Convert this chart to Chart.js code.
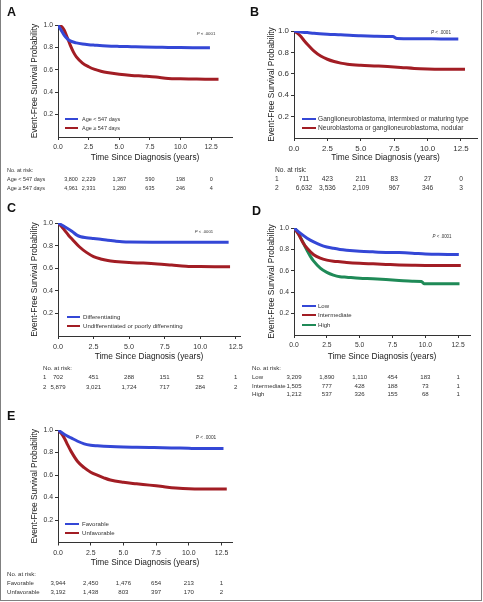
<!DOCTYPE html>
<html><head><meta charset="utf-8">
<script src="https://cdn.jsdelivr.net/npm/chart.js@4"></script>
<style>
html,body{margin:0;padding:0;background:#fff;width:483px;height:602px;overflow:hidden;position:relative}
canvas{position:absolute}
#frame{position:absolute;left:0;top:-1px;width:480px;height:601px;border:1px solid #808080;border-top:none;}
</style></head><body>
<div id="frame"></div>
<canvas id="cA"></canvas><canvas id="cB"></canvas><canvas id="cC"></canvas><canvas id="cD"></canvas><canvas id="cE"></canvas>
<script>
// ---------- DATA ----------
const xTicks = [0, 2.5, 5, 7.5, 10, 12.5];
const yTicks = [0.2, 0.4, 0.6, 0.8, 1.0];
const xTitle = 'Time Since Diagnosis (years)';
const yTitle = 'Event-Free Survival Probability';
const pText = '< .0001';

// A: age
const aYoungT = [0, 0.25, 0.5, 0.75, 1, 1.5, 2, 2.5, 3, 4, 5, 6, 7, 8, 9, 10, 11, 12.4];
const aYoungS = [1.0, 0.955, 0.91, 0.878, 0.858, 0.84, 0.83, 0.824, 0.82, 0.813, 0.809, 0.806, 0.803, 0.801, 0.80, 0.798, 0.797, 0.797];
const aOldT = [0, 0.25, 0.5, 0.75, 1, 1.25, 1.5, 2, 2.5, 3, 3.5, 4, 5, 6, 7, 8, 9, 10, 11, 12, 13.1];
const aOldS = [1.0, 0.99, 0.955, 0.89, 0.82, 0.76, 0.715, 0.66, 0.627, 0.603, 0.587, 0.575, 0.56, 0.55, 0.543, 0.535, 0.523, 0.52, 0.518, 0.516, 0.515];
const aLabels = ['Age < 547 days', 'Age \u2265 547 days'];
const aRiskYoung = [3800, 2229, 1367, 590, 198, 0];
const aRiskOld = [4961, 2331, 1280, 635, 246, 4];

// B: histology category
const bGnbT = [0, 0.5, 1, 1.5, 2.5, 3.5, 5, 6, 7.4, 7.7, 9, 10, 11, 12.3];
const bGnbS = [1.0, 0.99, 0.985, 0.978, 0.97, 0.965, 0.955, 0.952, 0.948, 0.93, 0.928, 0.927, 0.926, 0.925];
const bNbT = [0, 0.25, 0.5, 0.75, 1, 1.5, 2, 2.5, 3, 3.5, 4, 5, 6, 7, 8, 9, 10, 11, 12.8];
const bNbS = [1.0, 0.98, 0.95, 0.912, 0.876, 0.812, 0.766, 0.736, 0.715, 0.70, 0.69, 0.68, 0.674, 0.668, 0.66, 0.65, 0.645, 0.643, 0.643];
const bLabels = ['Ganglioneuroblastoma, intermixed or maturing type', 'Neuroblastoma or ganglioneuroblastoma, nodular'];
const bRowNames = ['1', '2'];
const bRisk1 = [711, 423, 211, 83, 27, 0];
const bRisk2 = [6632, 3536, 2109, 967, 346, 3];

// C: grade
const cDiffT = [0, 0.5, 1, 1.3, 1.6, 2, 2.5, 3, 3.5, 4, 4.5, 5, 7, 9, 11, 12];
const cDiffS = [1.0, 0.965, 0.925, 0.895, 0.878, 0.87, 0.863, 0.856, 0.847, 0.84, 0.834, 0.831, 0.83, 0.83, 0.83, 0.83];
const cUndT = [0, 0.25, 0.5, 0.75, 1, 1.5, 2, 2.5, 3, 3.5, 4, 5, 6, 7, 8, 9, 10, 11, 12.1];
const cUndS = [1.0, 0.97, 0.93, 0.89, 0.856, 0.79, 0.74, 0.703, 0.682, 0.668, 0.66, 0.65, 0.645, 0.638, 0.628, 0.618, 0.614, 0.613, 0.613];
const cLabels = ['Differentiating', 'Undifferentiated or poorly differenting'];
const cRowNames = ['1', '2'];
const cRisk1 = [702, 451, 288, 151, 52, 1];
const cRisk2 = [5879, 3021, 1724, 717, 284, 2];

// D: MKI
const dLowT = [0, 0.5, 1, 1.5, 2, 2.5, 3, 3.5, 4, 5, 6, 7, 8, 9, 10, 11, 12.55];
const dLowS = [1.0, 0.95, 0.905, 0.87, 0.843, 0.823, 0.81, 0.80, 0.793, 0.783, 0.777, 0.772, 0.77, 0.765, 0.758, 0.754, 0.752];
const dIntT = [0, 0.35, 0.7, 1, 1.5, 2, 2.5, 3, 3.5, 4, 5, 6, 7, 8, 9, 10, 11, 12.7];
const dIntS = [1.0, 0.94, 0.86, 0.81, 0.75, 0.718, 0.70, 0.69, 0.684, 0.678, 0.67, 0.665, 0.66, 0.655, 0.652, 0.65, 0.65, 0.65];
const dHighT = [0, 0.25, 0.5, 0.75, 1, 1.25, 1.5, 2, 2.5, 3, 3.5, 4, 5, 6, 7, 8, 9, 9.7, 9.9, 11, 12.6];
const dHighS = [1.0, 0.97, 0.91, 0.85, 0.79, 0.735, 0.69, 0.625, 0.585, 0.56, 0.545, 0.54, 0.53, 0.525, 0.518, 0.51, 0.503, 0.5, 0.48, 0.48, 0.48];
const dLabels = ['Low', 'Intermediate', 'High'];
const dRiskLow = [3209, 1890, 1110, 454, 183, 1];
const dRiskInt = [1505, 777, 428, 188, 73, 1];
const dRiskHigh = [1212, 537, 326, 155, 68, 1];

// E: INPC classification
const eFavT = [0, 0.5, 1, 1.5, 2, 2.5, 3, 4, 5, 6, 7, 8, 9, 10, 11, 12.65];
const eFavS = [1.0, 0.96, 0.93, 0.9, 0.877, 0.865, 0.86, 0.853, 0.849, 0.847, 0.845, 0.843, 0.84, 0.837, 0.835, 0.835];
const eUnfT = [0, 0.25, 0.5, 0.75, 1, 1.5, 2, 2.5, 3, 3.5, 4, 5, 6, 7, 8, 9, 10, 11, 12.9];
const eUnfS = [1.0, 0.97, 0.925, 0.865, 0.81, 0.72, 0.665, 0.625, 0.598, 0.575, 0.555, 0.535, 0.522, 0.51, 0.497, 0.485, 0.477, 0.475, 0.475];
const eLabels = ['Favorable', 'Unfavorable'];
const eRiskFav = [3944, 2450, 1476, 654, 213, 1];
const eRiskUnf = [3192, 1438, 803, 397, 170, 2];

// ---------- STYLE ----------
const BLUE = '#3447d6', RED = '#a21d24', GREEN = '#1f8a57';
function hasFont(name) {
  const c = document.createElement('canvas').getContext('2d');
  const s = 'Time Since Diagnosis (years)';
  c.font = '40px monospace'; const a = c.measureText(s).width;
  c.font = '40px "' + name + '", monospace'; const b = c.measureText(s).width;
  return Math.abs(a - b) > 0.5;
}
const NARROW = hasFont('Liberation Sans Narrow');
const FAMILY = NARROW ? '"Liberation Sans Narrow", "Liberation Sans", Arial, sans-serif' : '"Liberation Sans", Arial, sans-serif';
const K = NARROW ? 1 : 0.82;
const fs = n => +(n * K).toFixed(2);
const fmt = n => n.toLocaleString('en-US');

function drawAnnot(chart, p) {
  const ctx = chart.ctx, ox = p.x, oy = p.y;
  ctx.save();
  // panel letter
  ctx.fillStyle = '#111';
  ctx.textBaseline = 'middle';
  ctx.textAlign = 'left';
  ctx.font = 'bold 12.5px "Liberation Sans", Arial, sans-serif';
  ctx.fillText(p.letter, p.letterPos[0] - ox, p.letterPos[1] - oy);
  // P value
  ctx.fillStyle = '#333';
  const pf = fs(p.pSize);
  ctx.font = 'italic ' + pf + 'px ' + FAMILY;
  const w1 = ctx.measureText('P ').width;
  ctx.font = pf + 'px ' + FAMILY;
  const w2 = ctx.measureText(pText).width;
  let px = p.pPos[0] - ox - (w1 + w2) / 2;
  ctx.font = 'italic ' + pf + 'px ' + FAMILY;
  ctx.fillText('P ', px, p.pPos[1] - oy);
  ctx.font = pf + 'px ' + FAMILY;
  ctx.fillText(pText, px + w1, p.pPos[1] - oy);
  // legend
  const sf = fs(p.smallSize);
  ctx.font = sf + 'px ' + FAMILY;
  p.series.forEach((s, i) => {
    const y = p.legend.rows[i] - oy;
    ctx.strokeStyle = s.color; ctx.lineWidth = 2;
    ctx.beginPath(); ctx.moveTo(p.legend.x1 - ox, y); ctx.lineTo(p.legend.x2 - ox, y); ctx.stroke();
    ctx.fillStyle = '#333';
    ctx.fillText(s.label, p.legend.tx - ox, y);
  });
  // risk table
  const xs = chart.scales.x;
  ctx.fillStyle = '#333';
  ctx.textAlign = 'left';
  ctx.fillText('No. at risk:', p.risk.lx - ox, p.risk.hy - oy);
  p.risk.rows.forEach((r, i) => {
    const y = p.risk.ys[i] - oy;
    ctx.textAlign = 'left';
    ctx.fillText(r.name, p.risk.lx - ox, y);
    ctx.textAlign = 'center';
    r.vals.forEach((v, j) => {
      const x = xs.getPixelForValue(xTicks[j]) + (j === 0 ? p.risk.shift : 0);
      ctx.fillText(fmt(v), x, y);
    });
  });
  ctx.restore();
}

function panel(p) {
  const cv = document.getElementById(p.id);
  cv.width = p.w; cv.height = p.h;
  cv.style.left = p.x + 'px'; cv.style.top = p.y + 'px';
  const A = p.area;
  const xH = 30;
  const padTop = A.t - p.y, padRight = p.x + p.w - A.r, padBottom = (p.y + p.h) - (A.b + xH);
  const yW = A.l - p.x;
  const tSize = fs(10.2), lh = tSize * 1.2;
  const tickFont = { family: FAMILY, size: +(p.tickSize * (NARROW ? 1 : 0.9)).toFixed(2) };
  new Chart(cv, {
    type: 'line',
    data: {
      datasets: p.series.map(s => ({
        label: s.label,
        data: s.t.map((t, i) => ({ x: t, y: s.v[i] })),
        borderColor: s.color, backgroundColor: s.color,
        borderWidth: 3, pointRadius: 0, fill: false,
        cubicInterpolationMode: 'monotone'
      }))
    },
    options: {
      responsive: false, animation: false, devicePixelRatio: 1,
      layout: { padding: { left: 0, top: padTop, right: padRight, bottom: padBottom } },
      plugins: { legend: { display: false }, tooltip: { enabled: false } },
      scales: {
        x: {
          type: 'linear', min: 0, max: p.xMax,
          afterBuildTicks: s => { s.ticks = xTicks.map(v => ({ value: v })); },
          afterFit: s => { s.height = xH; },
          ticks: { font: tickFont, color: '#333', padding: 3.5, maxRotation: 0, autoSkip: false,
                   callback: v => Number(v).toFixed(1) },
          grid: { drawOnChartArea: false, drawTicks: true, tickLength: 3, color: '#333' },
          border: { display: true, color: '#333', width: 1 },
          title: { display: true, text: xTitle, color: '#222', font: { family: FAMILY, size: tSize },
                   padding: { top: 0, bottom: Math.max(0, xH - (p.xTitleY - A.b) - lh / 2) } }
        },
        y: {
          type: 'linear', min: 0, max: 1.0,
          afterBuildTicks: s => { s.ticks = yTicks.map(v => ({ value: v })); },
          afterFit: s => { s.width = yW; },
          ticks: { font: tickFont, color: '#333', padding: 2, autoSkip: false,
                   callback: v => Number(v).toFixed(1) },
          grid: { drawOnChartArea: false, drawTicks: true, tickLength: 3, color: '#333' },
          border: { display: true, color: '#333', width: 1 },
          title: { display: true, text: yTitle, color: '#222', font: { family: FAMILY, size: tSize },
                   padding: { top: (p.yTitleX - p.x) - lh / 2, bottom: 0 } }
        }
      }
    },
    plugins: [{ id: 'annot', afterDraw(chart) { drawAnnot(chart, p); } }]
  });
}

panel({
  id: 'cA', letter: 'A', x: 0, y: 0, w: 240, h: 195,
  area: { l: 58, t: 25, r: 232, b: 137 }, xMax: 14.2,
  tickSize: 7.5, smallSize: 6.7, pSize: 5.3, yTitleX: 35, xTitleY: 158,
  letterPos: [7, 13], pPos: [206, 34],
  series: [
    { t: aYoungT, v: aYoungS, color: BLUE, label: aLabels[0] },
    { t: aOldT, v: aOldS, color: RED, label: aLabels[1] }
  ],
  legend: { x1: 65, x2: 78, tx: 82, rows: [119, 128] },
  risk: { lx: 7, hy: 170, ys: [179, 188], shift: 13,
          rows: [{ name: aLabels[0], vals: aRiskYoung }, { name: aLabels[1], vals: aRiskOld }] }
});
panel({
  id: 'cB', letter: 'B', x: 240, y: 0, w: 240, h: 195,
  area: { l: 294, t: 31, r: 477, b: 138 }, xMax: 13.7,
  tickSize: 8.8, smallSize: 8.1, pSize: 5.7, yTitleX: 272, xTitleY: 158,
  letterPos: [250, 13], pPos: [441, 33],
  series: [
    { t: bGnbT, v: bGnbS, color: BLUE, label: bLabels[0] },
    { t: bNbT, v: bNbS, color: RED, label: bLabels[1] }
  ],
  legend: { x1: 302, x2: 316, tx: 318, rows: [119, 128] },
  risk: { lx: 275, hy: 170, ys: [179, 188], shift: 10,
          rows: [{ name: bRowNames[0], vals: bRisk1 }, { name: bRowNames[1], vals: bRisk2 }] }
});
panel({
  id: 'cC', letter: 'C', x: 0, y: 195, w: 250, h: 200,
  area: { l: 58, t: 223, r: 240, b: 336 }, xMax: 12.8,
  tickSize: 8.0, smallSize: 7.4, pSize: 5.2, yTitleX: 35, xTitleY: 357,
  letterPos: [7, 208.5], pPos: [204, 232],
  series: [
    { t: cDiffT, v: cDiffS, color: BLUE, label: cLabels[0] },
    { t: cUndT, v: cUndS, color: RED, label: cLabels[1] }
  ],
  legend: { x1: 67, x2: 80, tx: 83, rows: [317, 326] },
  risk: { lx: 43, hy: 368, ys: [377, 387], shift: 0,
          rows: [{ name: cRowNames[0], vals: cRisk1 }, { name: cRowNames[1], vals: cRisk2 }] }
});
panel({
  id: 'cD', letter: 'D', x: 240, y: 195, w: 240, h: 205,
  area: { l: 294, t: 228, r: 470, b: 335 }, xMax: 13.4,
  tickSize: 7.5, smallSize: 7.4, pSize: 5.4, yTitleX: 272, xTitleY: 357,
  letterPos: [252, 211.5], pPos: [442, 237],
  series: [
    { t: dLowT, v: dLowS, color: BLUE, label: dLabels[0] },
    { t: dIntT, v: dIntS, color: RED, label: dLabels[1] },
    { t: dHighT, v: dHighS, color: GREEN, label: dLabels[2] }
  ],
  legend: { x1: 302, x2: 316, tx: 318, rows: [306, 315, 325] },
  risk: { lx: 252, hy: 368, ys: [377, 386, 394], shift: 0,
          rows: [{ name: dLabels[0], vals: dRiskLow }, { name: dLabels[1], vals: dRiskInt }, { name: dLabels[2], vals: dRiskHigh }] }
});
panel({
  id: 'cE', letter: 'E', x: 0, y: 395, w: 240, h: 206,
  area: { l: 58, t: 430, r: 232, b: 542.5 }, xMax: 13.3,
  tickSize: 7.7, smallSize: 7.4, pSize: 5.8, yTitleX: 35, xTitleY: 563,
  letterPos: [7, 417], pPos: [206, 438],
  series: [
    { t: eFavT, v: eFavS, color: BLUE, label: eLabels[0] },
    { t: eUnfT, v: eUnfS, color: RED, label: eLabels[1] }
  ],
  legend: { x1: 65, x2: 79, tx: 82, rows: [524, 533] },
  risk: { lx: 7, hy: 574, ys: [583, 592], shift: 0,
          rows: [{ name: eLabels[0], vals: eRiskFav }, { name: eLabels[1], vals: eRiskUnf }] }
});
</script>
</body></html>
